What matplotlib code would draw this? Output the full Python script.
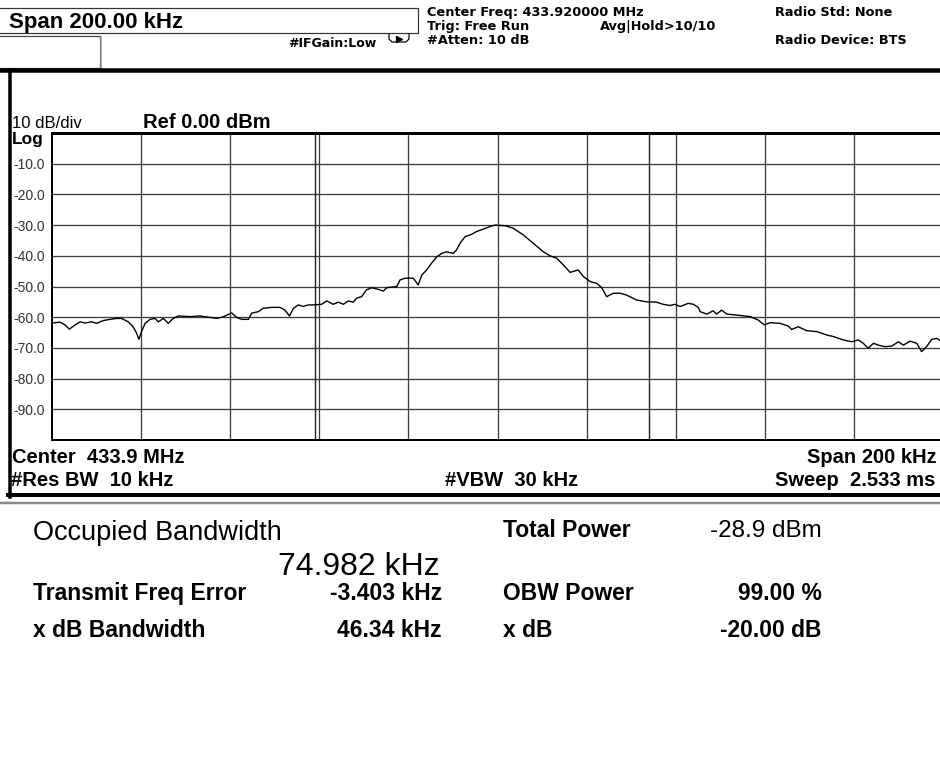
import matplotlib
matplotlib.use("Agg")
import matplotlib.pyplot as plt
from matplotlib.patches import Rectangle

plt.rcParams['font.family'] = ['Liberation Sans', 'DejaVu Sans']

# ── Trace ────────────────────────────────────────────────────────────────────
# offset from centre frequency in kHz, level in dBm
freq_khz = [
    -99.9, -98.2, -97.1, -96.1, -95.2, -93.7, -92.6, -91.1, -90.0, -88.5,
    -87.0, -85.5, -84.4, -82.9, -81.8, -81.0, -80.5, -79.9, -79.1, -78.0,
    -76.9, -76.1, -75.0, -73.9, -72.8, -71.7, -69.0, -66.8, -64.5, -63.0,
    -61.6, -59.7, -58.5, -57.4, -55.9, -55.2, -53.7, -52.6, -50.7, -48.8,
    -47.7, -46.7, -45.8, -44.7, -43.6, -42.5, -41.4, -39.5, -38.3, -36.9,
    -35.7, -34.6, -33.5, -32.4, -31.6, -30.5, -29.4, -28.2, -27.1, -25.6,
    -24.9, -22.6, -21.9, -20.8, -18.9, -17.8, -17.0, -15.9, -14.8, -13.6,
    -12.5, -11.4, -9.9, -9.2, -8.4, -7.3, -5.8, -4.7, -3.2, -1.7,
    -0.6, 1.7, 3.5, 5.8, 8.0, 10.3, 11.8, 13.3, 14.8, 16.3,
    18.1, 19.3, 20.8, 22.3, 23.4, 24.5, 26.0, 27.5, 29.0, 31.2,
    33.5, 35.7, 37.2, 38.7, 39.8, 41.0, 42.8, 44.0, 45.1, 45.5,
    47.0, 48.4, 49.2, 50.3, 51.5, 53.7, 56.7, 58.5, 59.9, 61.2,
    63.4, 65.3, 66.0, 67.5, 69.4, 71.7, 73.9, 75.4, 77.6, 79.5,
    81.0, 82.1, 83.2, 84.4, 85.5, 87.0, 88.5, 90.0, 91.1, 92.6,
    94.1, 95.2, 96.3, 97.5, 98.6, 99.7,
]
level_dbm = [
    -61.9, -61.6, -62.5, -63.9, -62.9, -61.5, -61.9, -61.5, -62.0, -61.1,
    -60.7, -60.4, -60.4, -61.5, -63.1, -65.2, -67.2, -64.7, -62.0, -60.7,
    -60.4, -61.5, -60.4, -62.0, -60.4, -59.6, -59.8, -59.6, -60.1, -60.4,
    -59.9, -58.6, -60.1, -60.7, -60.7, -58.7, -58.2, -57.1, -56.8, -56.8,
    -57.7, -59.6, -57.1, -56.0, -56.5, -56.0, -56.0, -55.8, -54.7, -55.8,
    -55.1, -55.8, -54.7, -55.1, -53.8, -53.3, -51.1, -50.4, -50.8, -51.5,
    -50.4, -50.0, -47.9, -47.3, -47.3, -49.5, -46.3, -44.6, -42.4, -40.3,
    -39.2, -38.7, -39.2, -38.1, -35.9, -33.8, -33.0, -32.1, -31.3, -30.5,
    -30.0, -30.2, -31.0, -33.2, -35.9, -38.7, -40.0, -40.8, -43.0, -45.4,
    -44.6, -46.8, -48.4, -49.0, -50.4, -53.3, -52.2, -52.2, -52.8, -54.4,
    -55.0, -55.1, -55.8, -56.2, -55.8, -56.5, -55.5, -55.8, -56.9, -58.2,
    -59.0, -57.9, -59.0, -57.7, -59.0, -59.3, -59.8, -60.9, -62.5, -61.8,
    -62.0, -62.9, -64.0, -63.1, -64.4, -64.7, -65.8, -66.3, -67.4, -68.0,
    -67.4, -68.5, -70.1, -68.5, -69.1, -69.6, -69.4, -68.0, -69.1, -67.8,
    -68.5, -71.2, -69.6, -67.2, -66.9, -68.0,
]

# ── Screen scale ──────────────────────────────────────────────────────────────
span_khz = 200
ref_dbm = 0.0
db_per_div = 10
level_ticks = [-10.0, -20.0, -30.0, -40.0, -50.0, -60.0, -70.0, -80.0, -90.0]
freq_grid_khz = [-80, -60, -40, -20, 0, 20, 40, 60, 80]

# ── Measurement results ───────────────────────────────────────────────────────
obw_khz = 74.982
freq_error_khz = -3.403
xdb_bw_khz = 46.34
total_power_dbm = -28.9
obw_power_pct = 99.00
xdb_db = -20.00

# ── Figure in screen pixels ───────────────────────────────────────────────────
W, H = 940, 758
PT = 0.72          # points per pixel at dpi=100
fig = plt.figure(figsize=(W / 100, H / 100), dpi=100)

bg = fig.add_axes([0, 0, 1, 1])
bg.set_xlim(0, W)
bg.set_ylim(H, 0)
bg.axis('off')


def box(x0, y0, x1, y1):
    return [x0 / W, 1 - y1 / H, (x1 - x0) / W, (y1 - y0) / H]


def txt(x, y, s, size, bold=True, ha='left', color='black', family=None):
    bg.text(x, y, s, fontsize=size, fontweight='bold' if bold else 'normal',
            ha=ha, va='baseline', color=color, family=family)


# header boxes and bars
bg.add_patch(Rectangle((-2, 8), 420, 25, fill=False, ec='#333333', lw=1.2 * PT))
bg.add_patch(Rectangle((-2, 36), 102, 32, fill=False, ec='#444444', lw=1.2 * PT))
bg.plot([101, 101], [37, 68], color='#9a9a9a', lw=1.5 * PT)
bg.plot([389, 389, 392, 406, 409, 409], [34, 39, 42, 42, 39, 34], color='black', lw=1.2 * PT)
bg.plot([399], [39], marker='>', ms=4, color='black')
bg.plot([0, W], [70, 70], color='black', lw=4.5 * PT)
bg.plot([10, 10], [70, 497], color='black', lw=3.5 * PT)
bg.plot([8, W], [495, 495], color='black', lw=4 * PT)
bg.plot([0, W], [503, 503], color='#8a8a8a', lw=2.5 * PT)

# small status lines: wide bold face so the tight rows keep their width
hdr = ['DejaVu Sans']
txt(9, 28, "Span 200.00 kHz", 16)
txt(288, 47, "#IFGain:Low", 9, family=hdr)
txt(427, 16, "Center Freq: 433.920000 MHz", 9.3, family=hdr)
txt(427, 30, "Trig: Free Run", 9.3, family=hdr)
txt(600, 30, "Avg|Hold>10/10", 9.3, family=hdr)
txt(427, 44, "#Atten: 10 dB", 9.3, family=hdr)
txt(775, 16, "Radio Std: None", 9.3, family=hdr)
txt(775, 44, "Radio Device: BTS", 9.3, family=hdr)

# labels around the graticule
txt(12, 128, f"{db_per_div} dB/div", 12, bold=False)
txt(143, 128, f"Ref {ref_dbm:.2f} dBm", 14.5)
txt(12, 144, "Log", 12.5)
txt(12, 463, "Center  433.9 MHz", 14.5)
txt(11, 486, "#Res BW  10 kHz", 14.5)
txt(445, 486, "#VBW  30 kHz", 14.5)
txt(807, 463, f"Span {span_khz} kHz", 14.5)
txt(775, 486, "Sweep  2.533 ms", 14.5)

# ── Graticule + trace ─────────────────────────────────────────────────────────
ax = fig.add_axes(box(52, 133, 943, 440))
ax.set_xlim(-span_khz / 2, span_khz / 2)
ax.set_ylim(ref_dbm - 10 * db_per_div, ref_dbm)
ax.set_xticks(freq_grid_khz)
ax.set_yticks(level_ticks)
ax.set_yticklabels([f"{v:.1f}" for v in level_ticks])
ax.tick_params(axis='x', length=0, labelbottom=False)
ax.tick_params(axis='y', length=0, pad=5, labelsize=10, labelcolor='#333333')
ax.grid(True, color='#3c3c3c', lw=1.3 * PT)
for side in ax.spines.values():
    side.set_linewidth(2 * PT)
ax.spines['top'].set_linewidth(3 * PT)

# occupied bandwidth markers
obw_lo = freq_error_khz - obw_khz / 2
obw_hi = freq_error_khz + obw_khz / 2
for f in (obw_lo, obw_hi):
    ax.axvline(f, color='#222222', lw=1.4 * PT)

ax.plot(freq_khz, level_dbm, color='black', lw=1.0)

# ── Result panel ──────────────────────────────────────────────────────────────
txt(33, 540, "Occupied Bandwidth", 19.5, bold=False)
txt(440, 575, f"{obw_khz:.3f} kHz", 23, bold=False, ha='right')
txt(33, 600, "Transmit Freq Error", 16.5)
txt(442, 600, f"{freq_error_khz:.3f} kHz", 16.5, ha='right')
txt(33, 637, "x dB Bandwidth", 16.5)
txt(442, 637, f"{xdb_bw_khz:.2f} kHz", 16.5, ha='right')
txt(503, 537, "Total Power", 16.5)
txt(822, 537, f"{total_power_dbm:.1f} dBm", 17.5, bold=False, ha='right')
txt(503, 600, "OBW Power", 16.5)
txt(822, 600, f"{obw_power_pct:.2f} %", 16.5, ha='right')
txt(503, 637, "x dB", 16.5)
txt(822, 637, f"{xdb_db:.2f} dB", 16.5, ha='right')

fig.savefig("out.png", dpi=100)
